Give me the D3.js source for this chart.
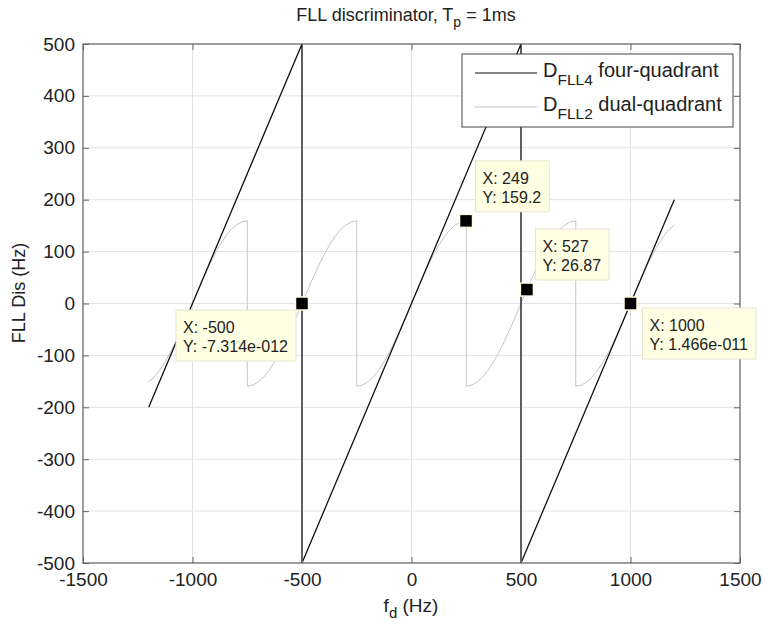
<!DOCTYPE html>
<html lang="en">
<head>
    <meta charset="UTF-8">
    <title>FLL discriminator</title>
    <script src="https://d3js.org/d3.v7.min.js"></script>
    <style>
        body { margin: 0; background: #fff; }
        svg text { font-family: "Liberation Sans", Arial, sans-serif; fill: #222; }
        .grid line { stroke: #e2e2e2; }
        .tick text { font-size: 19px; font-family: "Liberation Sans", Arial, sans-serif; }
    </style>
</head>
<body>
    <svg></svg>

    <script>
        // four-quadrant (atan2) discriminator, corner points
        const fourQuad = [[-1200, -200], [-500, 500], [-500, -500], [500, 500], [500, -500], [1200, 200]];

        // dual-quadrant discriminator, read every 25 Hz
        const dualQuad = [
            [-1200,-151.4],[-1175,-141.8],[-1150,-128.8],[-1125,-112.5],[-1100,-93.5],[-1075,-72.3],[-1050,-49.2],[-1025,-24.9],[-1000,0],
            [-975,24.9],[-950,49.2],[-925,72.3],[-900,93.5],[-875,112.5],[-850,128.8],[-825,141.8],[-800,151.4],[-775,157.2],[-750,159.2],
            [-750,-159.2],[-725,-157.2],[-700,-151.4],[-675,-141.8],[-650,-128.8],[-625,-112.5],[-600,-93.5],[-575,-72.3],[-550,-49.2],[-525,-24.9],[-500,0],
            [-475,24.9],[-450,49.2],[-425,72.3],[-400,93.5],[-375,112.5],[-350,128.8],[-325,141.8],[-300,151.4],[-275,157.2],[-250,159.2],
            [-250,-159.2],[-225,-157.2],[-200,-151.4],[-175,-141.8],[-150,-128.8],[-125,-112.5],[-100,-93.5],[-75,-72.3],[-50,-49.2],[-25,-24.9],[0,0],
            [25,24.9],[50,49.2],[75,72.3],[100,93.5],[125,112.5],[150,128.8],[175,141.8],[200,151.4],[225,157.2],[250,159.2],
            [250,-159.2],[275,-157.2],[300,-151.4],[325,-141.8],[350,-128.8],[375,-112.5],[400,-93.5],[425,-72.3],[450,-49.2],[475,-24.9],[500,0],
            [525,24.9],[550,49.2],[575,72.3],[600,93.5],[625,112.5],[650,128.8],[675,141.8],[700,151.4],[725,157.2],[750,159.2],
            [750,-159.2],[775,-157.2],[800,-151.4],[825,-141.8],[850,-128.8],[875,-112.5],[900,-93.5],[925,-72.3],[950,-49.2],[975,-24.9],[1000,0],
            [1025,24.9],[1050,49.2],[1075,72.3],[1100,93.5],[1125,112.5],[1150,128.8],[1175,141.8],[1200,151.4]
        ];

        const xTicks = [-1500, -1000, -500, 0, 500, 1000, 1500];
        const yTicks = [-500, -400, -300, -200, -100, 0, 100, 200, 300, 400, 500];

        // data tips
        const tipX = [-500, 249, 527, 1000];
        const tipY = [0, 159.2, 26.87, 0];
        const tipXText = ["-500", "249", "527", "1000"];
        const tipYText = ["-7.314e-012", "159.2", "26.87", "1.466e-011"];

        const width = 765, height = 626;
        const margin = {top: 44, bottom: 63, right: 25, left: 83};

        const svg = d3.select('svg')
            .attr('width', width)
            .attr('height', height)
            .attr('viewBox', [0, 0, width, height]);

        const x_scale = d3.scaleLinear().domain([-1500, 1500]).range([margin.left, width - margin.right]);
        const y_scale = d3.scaleLinear().domain([-500, 500]).range([height - margin.bottom, margin.top]);

        // grid
        const grid = svg.append('g').attr('class', 'grid');
        grid.selectAll('.gx').data(xTicks).join('line')
            .attr('x1', d => x_scale(d)).attr('x2', d => x_scale(d))
            .attr('y1', margin.top).attr('y2', height - margin.bottom);
        grid.selectAll('.gy').data(yTicks).join('line')
            .attr('y1', d => y_scale(d)).attr('y2', d => y_scale(d))
            .attr('x1', margin.left).attr('x2', width - margin.right);

        const line = d3.line().x(d => x_scale(d[0])).y(d => y_scale(d[1]));

        svg.append('path').datum(dualQuad)
            .attr('d', line).attr('fill', 'none')
            .attr('stroke', '#c4c4c4').attr('stroke-width', 1);

        svg.append('path').datum(fourQuad)
            .attr('d', line).attr('fill', 'none')
            .attr('stroke', '#111').attr('stroke-width', 1.3);

        // axes, ticks inward, box
        const axisColor = '#666';
        const fmt = d => String(d);
        const styleAxis = g => {
            g.select('.domain').remove();
            g.selectAll('.tick line').attr('stroke', axisColor);
            g.selectAll('.tick text').attr('fill', '#222');
        };
        svg.append('g').attr('transform', `translate(0,${height - margin.bottom})`)
            .call(d3.axisBottom(x_scale).tickValues(xTicks).tickFormat(fmt).tickSizeInner(-6).tickSizeOuter(0).tickPadding(10))
            .call(styleAxis);
        svg.append('g').attr('transform', `translate(${margin.left},0)`)
            .call(d3.axisLeft(y_scale).tickValues(yTicks).tickFormat(fmt).tickSizeInner(-6).tickSizeOuter(0).tickPadding(8))
            .call(styleAxis);
        svg.append('g').attr('transform', `translate(0,${margin.top})`)
            .call(d3.axisTop(x_scale).tickValues(xTicks).tickSizeInner(-6).tickSizeOuter(0).tickFormat(''))
            .call(styleAxis);
        svg.append('g').attr('transform', `translate(${width - margin.right},0)`)
            .call(d3.axisRight(y_scale).tickValues(yTicks).tickSizeInner(-6).tickSizeOuter(0).tickFormat(''))
            .call(styleAxis);
        svg.append('rect')
            .attr('x', margin.left).attr('y', margin.top)
            .attr('width', width - margin.left - margin.right)
            .attr('height', height - margin.top - margin.bottom)
            .attr('fill', 'none').attr('stroke', axisColor).attr('stroke-width', 1.2);

        // title and labels
        const title = svg.append('text').attr('x', 406).attr('y', 21)
            .attr('text-anchor', 'middle').style('font-size', '18px');
        title.append('tspan').text('FLL discriminator, T');
        title.append('tspan').attr('dy', 6).style('font-size', '14px').text('p');
        title.append('tspan').attr('dy', -6).text(' = 1ms');

        const xl = svg.append('text').attr('x', 411).attr('y', 612)
            .attr('text-anchor', 'middle').style('font-size', '19px');
        xl.append('tspan').text('f');
        xl.append('tspan').attr('dy', 6).style('font-size', '15px').text('d');
        xl.append('tspan').attr('dy', -6).text(' (Hz)');

        svg.append('text')
            .attr('transform', `translate(25,293) rotate(-90)`)
            .attr('text-anchor', 'middle').style('font-size', '18px')
            .text('FLL Dis (Hz)');

        // legend
        const lg = svg.append('g');
        lg.append('rect').attr('x', 462).attr('y', 54).attr('width', 271).attr('height', 73)
            .attr('fill', '#fff').attr('stroke', '#444').attr('stroke-width', 1);
        const legendItems = [
            {sub: 'FLL4', label: ' four-quadrant', color: '#111'},
            {sub: 'FLL2', label: ' dual-quadrant', color: '#c4c4c4'}
        ];
        legendItems.forEach((it, i) => {
            const y = 73 + i * 34;
            lg.append('line').attr('x1', 475).attr('x2', 537).attr('y1', y).attr('y2', y)
                .attr('stroke', it.color).attr('stroke-width', 1.2);
            const t = lg.append('text').attr('x', 543).attr('y', y + 4).style('font-size', '20px');
            t.append('tspan').text('D');
            t.append('tspan').attr('dy', 8).style('font-size', '15.5px').text(it.sub);
            t.append('tspan').attr('dy', -8).text(it.label);
        });

        // data tips: box corner offset from marker
        const tipPlace = [
            {dx: -126, dy: 6.5},
            {dx: 9.5, dy: -60},
            {dx: 8.5, dy: -60.5},
            {dx: 12, dy: 4.5}
        ];
        tipX.forEach((tx, i) => {
            const mx = x_scale(tx), my = y_scale(tipY[i]);
            const g = svg.append('g');
            const box = g.append('rect').attr('fill', '#ffffe3').attr('stroke', '#e4e4cc').attr('stroke-width', 1);
            const t1 = g.append('text').style('font-size', '16px').text('X: ' + tipXText[i]);
            const t2 = g.append('text').style('font-size', '16px').text('Y: ' + tipYText[i]);
            const w = Math.max(t1.node().getComputedTextLength(), t2.node().getComputedTextLength()) + 15;
            const h = 51;
            const p = tipPlace[i];
            const bx = mx + p.dx, by = my + p.dy;
            box.attr('x', bx).attr('y', by).attr('width', w).attr('height', h);
            t1.attr('x', bx + 7).attr('y', by + 23);
            t2.attr('x', bx + 7).attr('y', by + 42);
            svg.append('rect')
                .attr('x', mx - 6.5).attr('y', my - 6.5).attr('width', 13).attr('height', 13)
                .attr('fill', '#000').attr('stroke', '#fffbe0').attr('stroke-width', 1.5);
        });
    </script>
</body>
</html>
